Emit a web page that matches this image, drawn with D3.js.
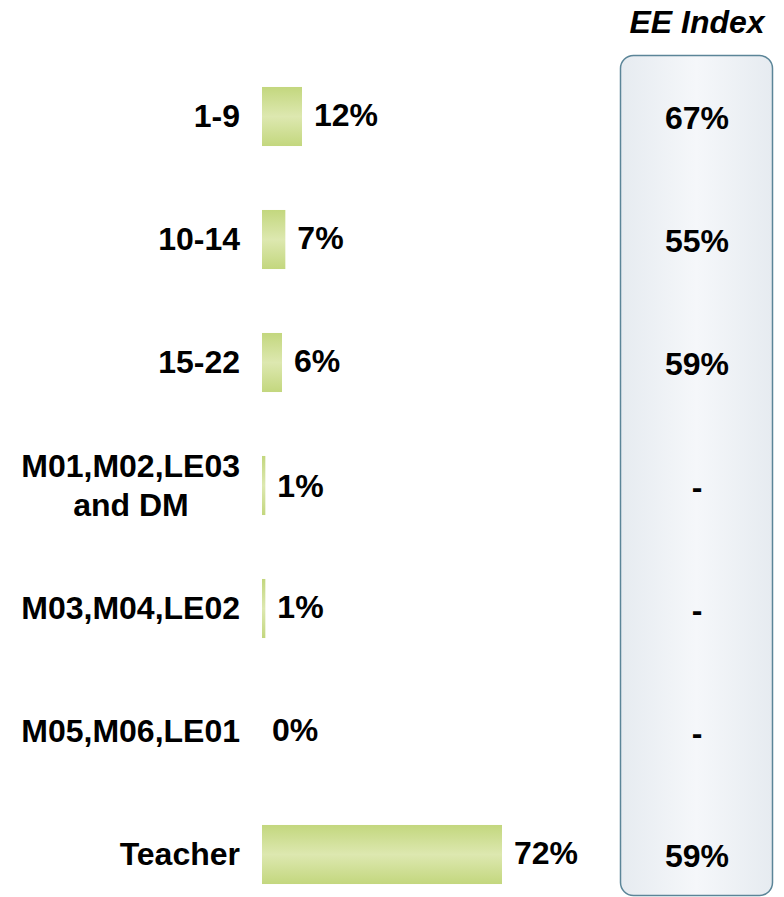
<!DOCTYPE html>
<html>
<head>
<meta charset="utf-8">
<script src="https://cdn.jsdelivr.net/npm/d3@7"></script>
<style>
  body { margin: 0; background: #fff; }
  text { font-family: "Liberation Sans", Arial, sans-serif; font-weight: bold; fill: #000; }
</style>
</head>
<body>
<svg id="canvas"></svg>
<script>
const W = 784, H = 897

const categories = ['1-9', '10-14', '15-22', 'M01,M02,LE03\nand DM', 'M03,M04,LE02', 'M05,M06,LE01', 'Teacher']
const shares = [12, 7, 6, 1, 1, 0, 72]
const eeIndex = ['67%', '55%', '59%', '-', '-', '-', '59%']

const FS = 32

const svg = d3.select('#canvas')
    .attr('width', W)
    .attr('height', H)

const defs = svg.append('defs')

// bar gradient: darker edges, lighter band in middle
const barGrad = defs.append('linearGradient')
    .attr('id', 'barGrad')
    .attr('x1', 0).attr('y1', 0).attr('x2', 0).attr('y2', 1)
barGrad.append('stop').attr('offset', '0%').attr('stop-color', '#c3d77e')
barGrad.append('stop').attr('offset', '50%').attr('stop-color', '#dde8b0')
barGrad.append('stop').attr('offset', '100%').attr('stop-color', '#c3d77e')

const boxGrad = defs.append('linearGradient')
    .attr('id', 'boxGrad')
    .attr('x1', 0).attr('y1', 0).attr('x2', 1).attr('y2', 0)
boxGrad.append('stop').attr('offset', '0%').attr('stop-color', '#e6ebf0')
boxGrad.append('stop').attr('offset', '50%').attr('stop-color', '#f5f7fa')
boxGrad.append('stop').attr('offset', '100%').attr('stop-color', '#e6ebf0')

const y = d3.scaleBand()
    .domain(categories)
    .range([55, 916])
    .paddingInner(0.52)
    .paddingOuter(0.26)

const x = d3.scaleLinear()
    .domain([0, 72])
    .range([262, 502])

// EE Index box
svg.append('rect')
    .attr('x', 620.5)
    .attr('y', 55.5)
    .attr('width', 152)
    .attr('height', 840)
    .attr('rx', 13)
    .attr('fill', 'url(#boxGrad)')
    .attr('stroke', '#5b8598')
    .attr('stroke-width', 1.5)

svg.append('text')
    .attr('x', 697)
    .attr('y', 33)
    .attr('text-anchor', 'middle')
    .style('font-size', FS + 'px')
    .style('font-style', 'italic')
    .text('EE Index')

const rows = svg.append('g').selectAll('g')
    .data(categories)
    .join('g')
    .attr('transform', d => `translate(0,${y(d)})`)

const bw = y.bandwidth()

rows.append('rect')
    .attr('x', x(0))
    .attr('y', 0)
    .attr('width', (d, i) => x(shares[i]) - x(0))
    .attr('height', bw)
    .attr('fill', 'url(#barGrad)')

// category labels, may be two lines
rows.append('text')
    .attr('x', 240)
    .attr('text-anchor', 'end')
    .style('font-size', FS + 'px')
    .each(function(d) {
        const lines = d.split('\n')
        const t = d3.select(this)
        lines.forEach((l, k) => {
            t.append('tspan')
                .attr('x', 240)
                .attr('y', bw / 2 + 11 + (k - (lines.length - 1) / 2) * 40)
                .attr('text-anchor', k == 0 ? 'end' : 'middle')
                .attr('dx', k == 0 ? 0 : -109)
                .text(l)
        })
    })

rows.append('text')
    .attr('x', (d, i) => x(shares[i]) + (shares[i] > 0 ? 12 : 10))
    .attr('y', (d, i) => bw / 2 + (categories[i].includes('\n') ? 12 : 10))
    .style('font-size', FS + 'px')
    .text((d, i) => shares[i] + '%')

rows.append('text')
    .attr('x', 697)
    .attr('y', bw / 2 + 13)
    .attr('text-anchor', 'middle')
    .style('font-size', FS + 'px')
    .text((d, i) => eeIndex[i])
</script>
</body>
</html>
